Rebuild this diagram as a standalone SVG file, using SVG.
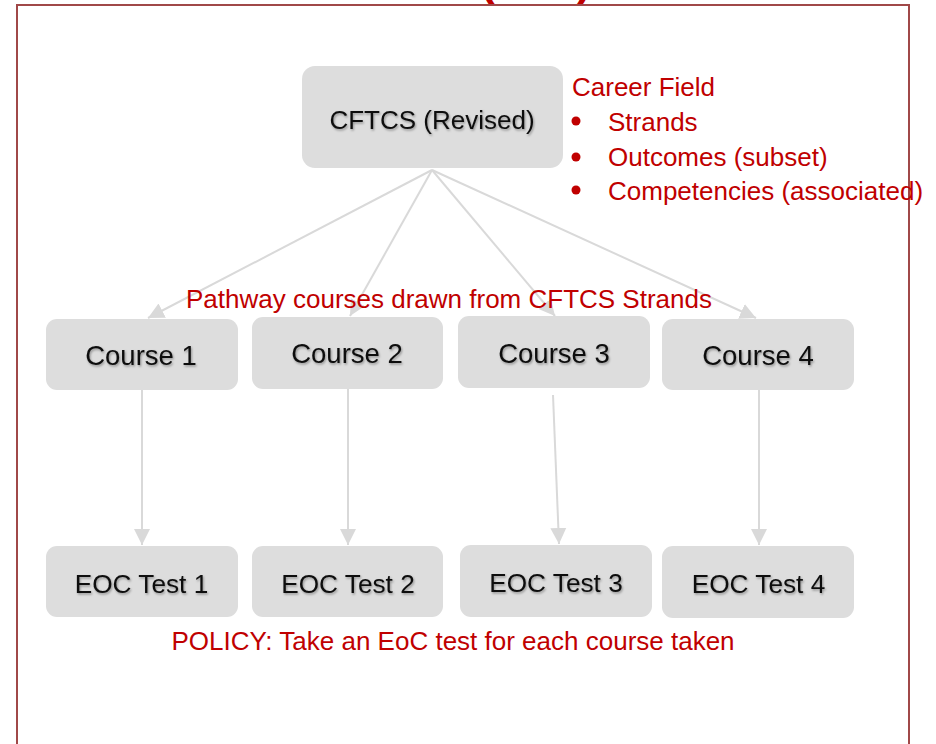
<svg xmlns="http://www.w3.org/2000/svg" width="936" height="744" viewBox="0 0 936 744">
<defs>
<style>
.node{fill:#DDDDDD;}
.lbl{font-family:"Liberation Sans",Arial,sans-serif;fill:#111;text-anchor:middle;filter:url(#sh);}
.red{font-family:"Liberation Sans",Arial,sans-serif;fill:#C00000;font-size:26px;}
.conn{stroke:#D9D9D9;stroke-width:2;fill:none;marker-end:url(#ah);}
</style>
<filter id="sh" x="-10%" y="-30%" width="130%" height="160%">
<feDropShadow dx="1" dy="1.5" stdDeviation="1" flood-color="#000" flood-opacity="0.35"/>
</filter>
<marker id="ah" markerUnits="userSpaceOnUse" markerWidth="18" markerHeight="18" viewBox="0 0 18 18" refX="16" refY="9" orient="auto">
<path d="M0,1 L16,9 L0,17 Z" fill="#D9D9D9"/>
</marker>
</defs>
<rect width="936" height="744" fill="#FFFFFF"/>
<path d="M17,750 V5 H909 V750" fill="none" stroke="#A04848" stroke-width="2"/>
<text x="480" y="-5" font-family="Liberation Sans,Arial,sans-serif" font-weight="bold" font-size="44" fill="#C00000">(</text>
<text x="577" y="-5" font-family="Liberation Sans,Arial,sans-serif" font-weight="bold" font-size="44" fill="#C00000">)</text>
<g id="connectors">
<line class="conn" x1="432" y1="170" x2="148" y2="318"/>
<line class="conn" x1="432" y1="170" x2="350" y2="316"/>
<line class="conn" x1="432" y1="170" x2="555" y2="316"/>
<line class="conn" x1="432" y1="170" x2="756" y2="318"/>
<line class="conn" x1="142" y1="390" x2="142" y2="545"/>
<line class="conn" x1="348" y1="389" x2="348" y2="545"/>
<line class="conn" x1="553" y1="395" x2="559" y2="544"/>
<line class="conn" x1="759" y1="390" x2="759" y2="545"/>
</g>
<g id="cftcs">
<rect class="node" x="302" y="66" width="261" height="102" rx="13"/>
<text class="lbl" x="432" y="129" font-size="26">CFTCS (Revised)</text>
</g>
<g id="career-field">
<text class="red" x="572" y="96">Career Field</text>
<circle cx="576" cy="121" r="4.5" fill="#C00000"/>
<text class="red" x="608" y="131">Strands</text>
<circle cx="576" cy="157" r="4.5" fill="#C00000"/>
<text class="red" x="608" y="166">Outcomes (subset)</text>
<circle cx="576" cy="190" r="4.5" fill="#C00000"/>
<text class="red" x="608" y="200">Competencies (associated)</text>
</g>
<g id="pathway-label">
<text class="red" x="449" y="308" text-anchor="middle">Pathway courses drawn from CFTCS Strands</text>
</g>
<g id="course1">
<rect class="node" x="46" y="319" width="192" height="71" rx="11"/>
<text class="lbl" x="141" y="365" font-size="27.5">Course 1</text>
</g>
<g id="course2">
<rect class="node" x="252" y="317" width="191" height="72" rx="11"/>
<text class="lbl" x="347" y="363" font-size="27.5">Course 2</text>
</g>
<g id="course3">
<rect class="node" x="458" y="316" width="192" height="72" rx="11"/>
<text class="lbl" x="554" y="363" font-size="27.5">Course 3</text>
</g>
<g id="course4">
<rect class="node" x="662" y="319" width="192" height="71" rx="11"/>
<text class="lbl" x="758" y="365" font-size="27.5">Course 4</text>
</g>
<g id="eoc1">
<rect class="node" x="46" y="546" width="192" height="71" rx="11"/>
<text class="lbl" x="141.5" y="593" font-size="26.2">EOC Test 1</text>
</g>
<g id="eoc2">
<rect class="node" x="252" y="546" width="191" height="71" rx="11"/>
<text class="lbl" x="348" y="593" font-size="26.2">EOC Test 2</text>
</g>
<g id="eoc3">
<rect class="node" x="460" y="545" width="192" height="72" rx="11"/>
<text class="lbl" x="556" y="592" font-size="26.2">EOC Test 3</text>
</g>
<g id="eoc4">
<rect class="node" x="662" y="546" width="192" height="72" rx="11"/>
<text class="lbl" x="758.5" y="593" font-size="26.2">EOC Test 4</text>
</g>
<g id="policy-label">
<text class="red" x="453" y="650" text-anchor="middle">POLICY: Take an EoC test for each course taken</text>
</g>
</svg>
